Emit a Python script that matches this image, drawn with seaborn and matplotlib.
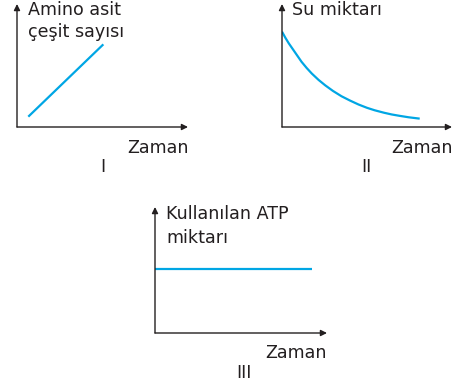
import numpy as np
import matplotlib
matplotlib.use("Agg")
import matplotlib.pyplot as plt
import seaborn as sns

# Veriler (her grafik 0-10 birimlik eksende)
zaman_1 = [0.66, 5.05]
amino_asit = [0.84, 6.72]

zaman_2 = [0.0, 0.2, 0.4, 0.6, 0.85, 1.15, 1.45, 1.75, 2.15, 2.55, 3.0,
           3.5, 4.0, 4.5, 5.0, 5.45, 6.0, 6.45, 6.95, 7.45, 8.1]
su_miktari = [7.75, 7.25, 6.8, 6.4, 5.9, 5.3, 4.8, 4.35, 3.83, 3.38, 2.93,
              2.5, 2.15, 1.83, 1.56, 1.36, 1.16, 1.02, 0.9, 0.79, 0.68]

zaman_3 = [0.0, 9.13]
atp_miktari = [5.04, 5.04]

etiketler = ["I", "II", "III"]

sns.set_style("white")
plt.rcParams["font.family"] = ["DejaVu Sans"]

W, H = 460, 387
fig = plt.figure(figsize=(W / 100, H / 100), dpi=100)

mavi = "#00a6e4"
siyah = "#231f20"
fs = 12.6


def eksen(left, top, right, bottom):
    ax = fig.add_axes([left / W, 1 - bottom / H, (right - left) / W, (bottom - top) / H])
    ax.set_xlim(0, 10)
    ax.set_ylim(0, 10)
    ax.axis("off")
    ok = dict(arrowstyle="-|>", color=siyah, lw=1.0, mutation_scale=9,
              shrinkA=0, shrinkB=0)
    ax.annotate("", xy=(1, 0), xytext=(0, 0), xycoords="axes fraction", arrowprops=ok)
    ax.annotate("", xy=(0, 1), xytext=(0, 0), xycoords="axes fraction", arrowprops=ok)
    return ax


def yazi(x, y, s, ha="left"):
    fig.text(x / W, 1 - y / H, s, ha=ha, va="baseline", fontsize=fs, color=siyah)


# I
ax1 = eksen(17, 4, 188, 127)
sns.lineplot(x=zaman_1, y=amino_asit, ax=ax1, color=mavi, linewidth=1.6)
yazi(28, 15, "Amino asit")
yazi(28, 37.3, "çeşit sayısı")
yazi(127, 152.7, "Zaman")
yazi(103, 172, etiketler[0], ha="center")

# II
ax2 = eksen(282, 4, 452, 127)
sns.lineplot(x=zaman_2, y=su_miktari, ax=ax2, color=mavi, linewidth=1.6)
yazi(291.7, 15, "Su miktarı")
yazi(391.7, 152.7, "Zaman")
yazi(366.7, 172, etiketler[1], ha="center")

# III
ax3 = eksen(155, 207, 327, 333)
sns.lineplot(x=zaman_3, y=atp_miktari, ax=ax3, color=mavi, linewidth=1.6)
yazi(166, 219.3, "Kullanılan ATP")
yazi(166, 243.3, "miktarı")
yazi(265, 358.3, "Zaman")
yazi(244, 378.3, etiketler[2], ha="center")

for ax in (ax1, ax2, ax3):
    for ln in ax.get_lines():
        ln.set_solid_capstyle("butt")
        ln.set_solid_joinstyle("round")

fig.savefig("out.png", dpi=100)
